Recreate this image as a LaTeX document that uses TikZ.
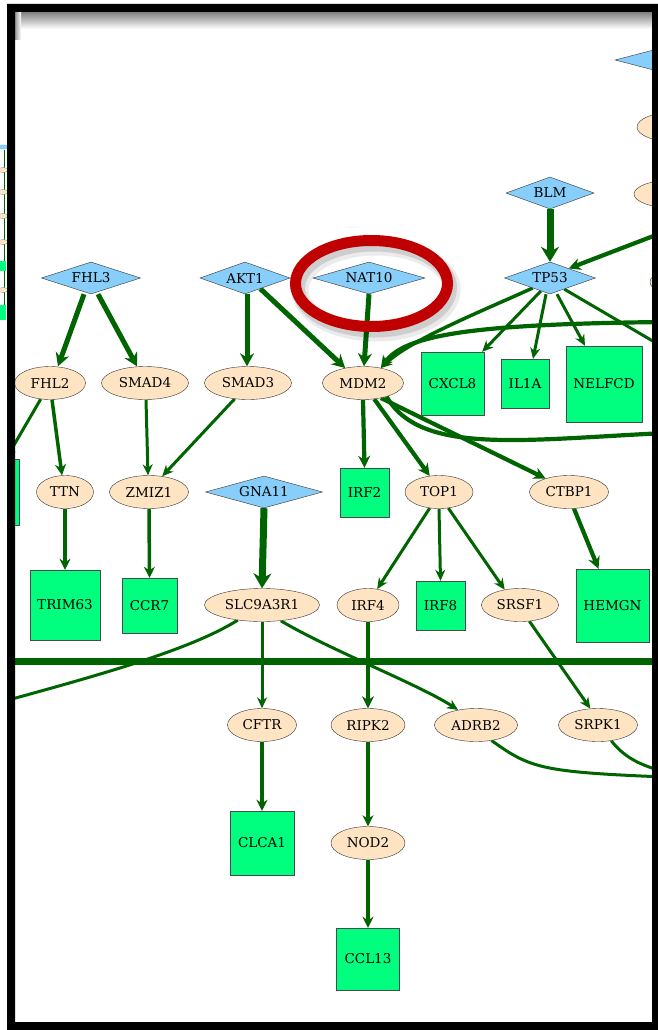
\documentclass[tikz,border=0pt]{standalone}
\usepackage{fontspec}
\setmainfont{DejaVu Serif}
\usepackage{tikz}
\usetikzlibrary{arrows.meta,shapes.geometric,backgrounds}
\definecolor{lnk}{HTML}{006400}
\definecolor{hubbg}{HTML}{87CEFA}
\definecolor{protbg}{HTML}{FFE4C4}
\definecolor{tgtbg}{HTML}{00FF7F}
\definecolor{nodeline}{HTML}{333333}
\definecolor{boxline}{HTML}{4A4A4A}
\definecolor{ring}{HTML}{C00000}

\begin{document}
\begin{tikzpicture}[x=1pt,y=-1pt,
  hub/.style={diamond,aspect=3,draw=nodeline,fill=hubbg,inner sep=0pt,
              minimum height=32pt,font=\fontsize{13.5}{15}\selectfont},
  prot/.style={ellipse,draw=nodeline,fill=protbg,inner sep=0pt,
               minimum height=33pt,font=\fontsize{13.5}{15}\selectfont},
  tgt/.style={rectangle,draw=boxline,fill=tgtbg,inner sep=0pt,
              font=\fontsize{13.5}{15}\selectfont},
  wire/.style={draw=lnk,line width=3pt},
  arr/.style={-{Stealth[length=11pt,width=10pt]},draw=lnk,line width=3pt},
  arrm/.style={-{Stealth[length=11pt,width=11pt]},draw=lnk,line width=3.5pt},
  arrb/.style={-{Stealth[length=12pt,width=12pt]},draw=lnk,line width=4.2pt},
  arrh/.style={-{Stealth[length=13pt,width=14pt]},draw=lnk,line width=5pt},
  arrx/.style={-{Stealth[length=15pt,width=18pt]},draw=lnk,line width=7pt}
]
\useasboundingbox (0,0) rectangle (658,1030);
\begin{scope}[on background layer]
\fill[white] (0,0) rectangle (658,1030);
\end{scope}

% little overview strip outside the window
\begin{scope}
\clip (0,0) rectangle (7,1030);
\draw[lnk,line width=.8pt] (4,150) -- (4,318);
\fill[hubbg] (3,147) ellipse [x radius=5, y radius=2.5];
\foreach \yy in {170,192,216,242,290}
  \filldraw[fill=protbg,draw=gray,line width=.3pt] (3,\yy) ellipse [x radius=5, y radius=2.5];
\fill[tgtbg] (-2,261) rectangle (6,271);
\fill[tgtbg] (-2,305) rectangle (6,320);
\end{scope}

\begin{scope}
\clip (15,40) rectangle (652,1022);
% regulators
\node[hub,minimum width=99pt] (fhl3) at (91,278) {FHL3};
\node[hub,minimum width=90pt] (akt1) at (245,278) {AKT1};
\node[hub,minimum width=112pt] (nat10) at (369,278) {NAT10};
\node[hub,minimum width=88pt] (blm) at (550,193) {BLM};
\node[hub,minimum width=91pt] (tp53) at (550,278) {TP53};
\node[hub,minimum width=117pt] (gna11) at (264,492) {GNA11};
\node[hub,minimum width=100pt,minimum height=26pt] (hubR) at (665,60) {};
% intermediates
\node[prot,minimum width=71pt] (fhl2) at (50,383) {FHL2};
\node[prot,minimum width=87pt] (smad4) at (145,383) {SMAD4};
\node[prot,minimum width=87pt] (smad3) at (248,383) {SMAD3};
\node[prot,minimum width=81pt] (mdm2) at (363,383) {MDM2};
\node[prot,minimum width=57pt] (ttn) at (65,492) {TTN};
\node[prot,minimum width=79pt] (zmiz1) at (149,492) {ZMIZ1};
\node[prot,minimum width=68pt] (top1) at (439,492) {TOP1};
\node[prot,minimum width=79pt] (ctbp1) at (569,492) {CTBP1};
\node[prot,minimum width=115pt] (slc) at (262,605) {SLC9A3R1};
\node[prot,minimum width=62pt] (irf4) at (368,605) {IRF4};
\node[prot,minimum width=77pt] (srsf1) at (520,605) {SRSF1};
\node[prot,minimum width=69pt] (cftr) at (262,725) {CFTR};
\node[prot,minimum width=74pt] (ripk2) at (368,725) {RIPK2};
\node[prot,minimum width=83pt] (adrb2) at (476,725) {ADRB2};
\node[prot,minimum width=79pt] (srpk1) at (598,725) {SRPK1};
\node[prot,minimum width=74pt] (nod2) at (368,843) {NOD2};
\node[prot,minimum width=78pt,minimum height=30pt] (protR1) at (676,127) {};
\node[prot,minimum width=78pt,minimum height=28pt] (protR2) at (673,194) {};
\node[prot,minimum width=80pt,minimum height=30pt] (protR3) at (690,282) {};
% targets
\node[tgt,minimum width=63pt,minimum height=63pt] (cxcl8) at (452.5,383.5) {CXCL8};
\node[tgt,minimum width=48pt,minimum height=49pt] (il1a) at (525,383.5) {IL1A};
\node[tgt,minimum width=76pt,minimum height=76pt] (nelfcd) at (604,384) {NELFCD};
\node[tgt,minimum width=49pt,minimum height=49pt] (irf2) at (364.5,492.5) {IRF2};
\node[tgt,minimum width=66pt,minimum height=66pt] (lbox) at (-14,492) {};
\node[tgt,minimum width=70pt,minimum height=70pt] (trim63) at (65,605) {TRIM63};
\node[tgt,minimum width=55pt,minimum height=55pt] (ccr7) at (149.5,605.5) {CCR7};
\node[tgt,minimum width=49pt,minimum height=49pt] (irf8) at (440.5,605.5) {IRF8};
\node[tgt,minimum width=73pt,minimum height=73pt] (hemgn) at (612.5,605.5) {HEMGN};
\node[tgt,minimum width=64pt,minimum height=64pt] (clca1) at (262,843) {CLCA1};
\node[tgt,minimum width=63pt,minimum height=62pt] (ccl13) at (368,959) {CCL13};
% loose ends beyond the window
\coordinate (inR) at (665,322);
\coordinate (srcR) at (690,222);
\coordinate (tpR) at (680,357);
\coordinate (outR) at (665,433);
\coordinate (offL) at (-10,705);
\coordinate (outR2) at (665,777);
\coordinate (outR3) at (665,772);
\coordinate (hl) at (0,661);
\coordinate (hr) at (665,661);

\begin{scope}[on background layer]
\clip (15,40) rectangle (652,1022);
\draw[arrh] ([xshift=-7pt]fhl3.south) -- ([xshift=8pt]fhl2.north);
\draw[arrh] ([xshift=7pt]fhl3.south) -- ([xshift=-8pt]smad4.north);
\draw[arrh] ([xshift=2pt]akt1.south) -- ([xshift=-1pt]smad3.north);
\draw[arrh] (akt1.-35) -- (mdm2.140);
\draw[arrh] (nat10.south) -- ([xshift=1pt]mdm2.north);
\draw[arrx] (blm.south) -- (tp53.north);
\draw[arrm] (tp53.210) .. controls (480,312) and (410,340) .. (mdm2.40);
\draw[arrb] (inR) .. controls (470,324) and (405,335) .. (mdm2.40);
\draw[arrb] (srcR) -- (tp53.27);
\draw[arr] (tp53.235) -- ([xshift=-2pt]cxcl8.north east);
\draw[arr] ([xshift=-4pt]tp53.south) -- ([xshift=8pt]il1a.north);
\draw[arr] ([xshift=7pt]tp53.south) -- ([xshift=-19pt]nelfcd.north);
\draw[wire] (tp53.-38) -- (tpR);
\draw[arrb] (mdm2.south) -- (irf2.north);
\draw[arrb] (mdm2.-55) -- (top1.120);
\draw[arrb] (mdm2.-40) -- (ctbp1.150);
\draw[wire,line width=4.2pt] (mdm2.-30) .. controls (420,455) and (520,440) .. (outR);
\draw[arrm] ([xshift=2pt]fhl2.south) -- ([xshift=-3pt]ttn.north);
\draw[arr] (fhl2.-120) -- ([xshift=20pt]lbox.north);
\draw[arr] ([xshift=1pt]smad4.south) -- ([xshift=-1pt]zmiz1.north);
\draw[arr] (smad3.-130) -- (zmiz1.50);
\draw[arrm] (ttn.south) -- (trim63.north);
\draw[arrm] (zmiz1.south) -- (ccr7.north);
\draw[arrx] (gna11.south) -- (slc.north);
\draw[arr] (top1.-120) -- (irf4.60);
\draw[arr] (top1.south) -- (irf8.north);
\draw[arr] (top1.-60) -- (srsf1.135);
\draw[arrb] ([xshift=5pt]ctbp1.south) -- ([xshift=-14pt]hemgn.north);
\draw[arr] (slc.south) -- (cftr.north);
\draw[wire] (slc.-148) .. controls (190,650) and (100,675) .. (offL);
\draw[arr] (slc.-40) .. controls (330,650) and (420,685) .. (adrb2.140);
\draw[arrb] (irf4.south) -- (ripk2.north);
\draw[arr] (srsf1.-60) -- (srpk1.115);
\draw[wire] (adrb2.-45) .. controls (530,768) and (540,772) .. (outR2);
\draw[wire] (srpk1.-50) .. controls (625,758) and (640,765) .. (outR3);
\draw[arrm] (cftr.south) -- (clca1.north);
\draw[arrm] (ripk2.south) -- (nod2.north);
\draw[arrm] (nod2.south) -- (ccl13.north);
\draw[wire,line width=7pt] (hl) -- (hr);
\end{scope}

% highlight ring with its shadow
\draw[black,opacity=.08,line width=17pt] (376,290) ellipse [x radius=76, y radius=43];
\draw[black,opacity=.12,line width=13pt] (374.5,288) ellipse [x radius=76, y radius=43];
\draw[ring,line width=11pt] (371.5,283.5) ellipse [x radius=76, y radius=43];
\end{scope}

% window frame
\shade[top color=black!50,bottom color=white] (15,12) rectangle (652,29);
\shade[left color=black!40,right color=white] (15,12) rectangle (21,40);
\fill[black,even odd rule] (7,4) rectangle (658,1030) (15,12) rectangle (652,1022);
\end{tikzpicture}
\end{document}
